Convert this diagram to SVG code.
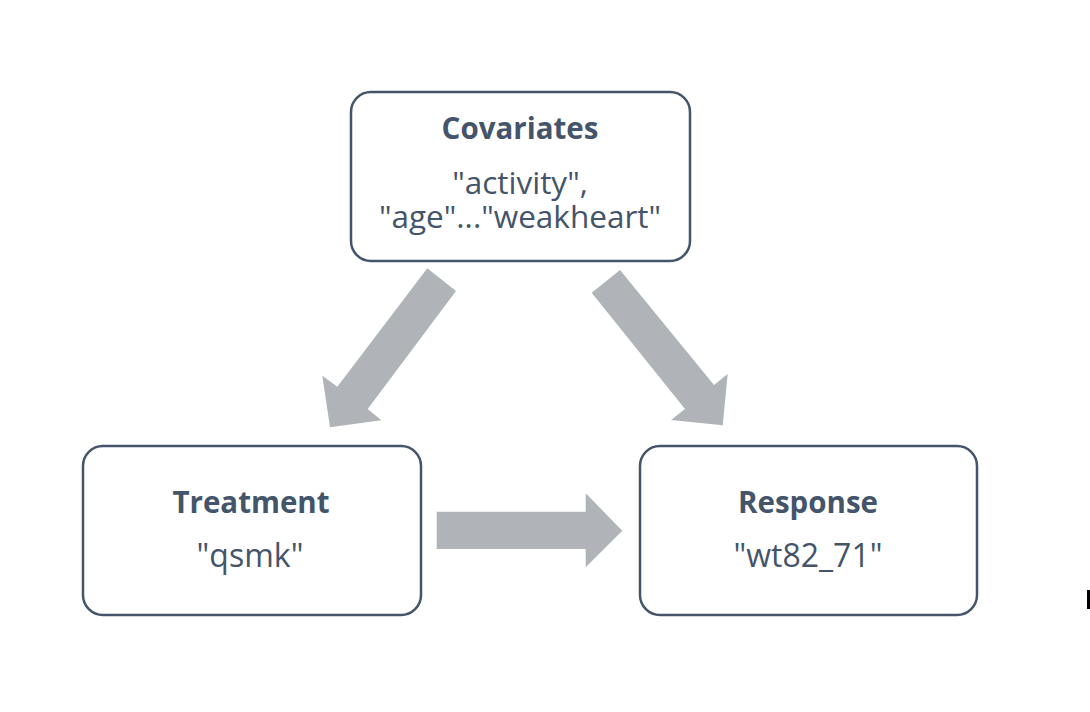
<svg xmlns="http://www.w3.org/2000/svg" width="1090" height="712" viewBox="0 0 1090 712">
<style>
.box{fill:#ffffff;stroke:#44546a;stroke-width:2.5}
.title{font-family:"Open Sans","Noto Sans",sans-serif;font-weight:bold;font-size:29.5px;fill:#44546a;text-anchor:middle}
.body{font-family:"Open Sans","Noto Sans",sans-serif;font-size:32px;fill:#44546a;text-anchor:middle}
.cov{font-size:31.5px}
.arrow{fill:#b0b3b8}
</style>
<rect width="1090" height="712" fill="#ffffff"/>
<g id="connectors">
<polygon class="arrow" points="427.3,268.3 456,291 367.7,409 381.3,420.3 330,427.3 322.3,375.7 337.3,386.7"/>
<polygon class="arrow" points="620,270 591.7,292.7 685,409 671,420 722.7,425.3 727.7,374 714,385"/>
<polygon class="arrow" points="436.7,511.7 585.7,511.7 585.7,493.3 622.3,530.7 585.7,567.3 585.7,549 436.7,549"/>
</g>
<g id="covariates">
<rect class="box" x="351" y="92" width="339" height="169" rx="20"/>
<text class="title" x="520" y="139">Covariates</text>
<text class="body cov" x="520" y="194"><tspan x="520" y="194">"activity",</tspan><tspan x="520" y="228">"age"..."weakheart"</tspan></text>
</g>
<g id="treatment">
<rect class="box" x="83" y="446" width="338" height="169" rx="20"/>
<text class="title" x="251" y="513">Treatment</text>
<text class="body" x="250" y="567">"qsmk"</text>
</g>
<g id="response">
<rect class="box" x="640" y="446" width="337" height="169" rx="20"/>
<text class="title" x="808" y="513">Response</text>
<text class="body" x="808" y="567">"wt82_71"</text>
</g>
<rect x="1087" y="590" width="3" height="19" fill="#000000"/>
</svg>
